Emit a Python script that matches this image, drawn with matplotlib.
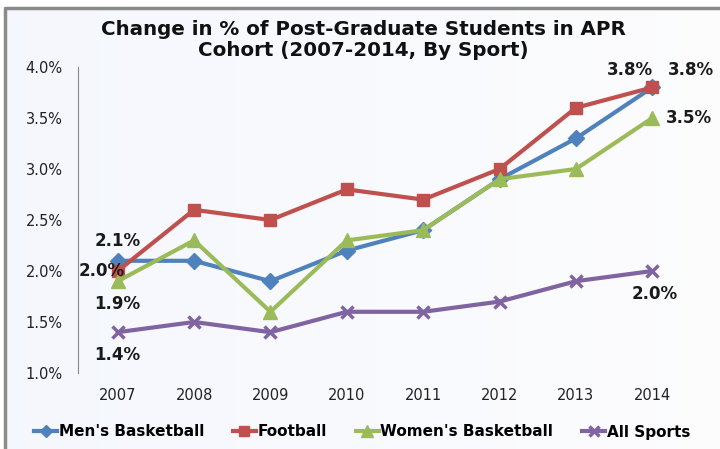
import matplotlib
matplotlib.use("Agg")
import matplotlib.pyplot as plt
import numpy as np

years = ["2007", "2008", "2009", "2010", "2011", "2012", "2013", "2014"]
mens_bb = [2.1, 2.1, 1.9, 2.2, 2.4, 2.9, 3.3, 3.8]
football = [2.0, 2.6, 2.5, 2.8, 2.7, 3.0, 3.6, 3.8]
womens_bb = [1.9, 2.3, 1.6, 2.3, 2.4, 2.9, 3.0, 3.5]
all_sports = [1.4, 1.5, 1.4, 1.6, 1.6, 1.7, 1.9, 2.0]
yticks = [1.0, 1.5, 2.0, 2.5, 3.0, 3.5, 4.0]

plt.rcParams['font.family'] = ['DejaVu Sans']
W, H = 720, 449
fig = plt.figure(figsize=(7.2, 4.49), dpi=100)
fig.patch.set_facecolor('white')
# background panel with border
bg = fig.add_axes([0, 0, 1, 1], zorder=-10)
bg.set_xlim(0, W); bg.set_ylim(H, 0); bg.axis('off')
grad = np.linspace(0, 1, 256).reshape(1, -1)
bg.imshow(np.dstack([0.96 + 0.03*grad, 0.97 + 0.02*grad, 0.995 + 0*grad]),
          extent=[5, W, H, 8], aspect='auto')
bg.plot([5, 5, W], [H, 8, 8], color='#8a8a8a', lw=2.5)

x0, x1 = 78, 692
y_top, y_bot = 67, 373
ax = fig.add_axes([x0/W, 1 - y_bot/H, (x1-x0)/W, (y_bot-y_top)/H])
ax.patch.set_alpha(0)
x = np.arange(len(years))
ax.set_xlim(-0.52, len(years)-0.48)
ax.set_ylim(1.0, 4.0)

ax.plot(x, mens_bb, color='#4F81BD', lw=3, marker='D', ms=8, label="Men's Basketball", zorder=3)
ax.plot(x, football, color='#C0504D', lw=3, marker='s', ms=9, label="Football", zorder=3)
ax.plot(x, womens_bb, color='#9BBB59', lw=3, marker='^', ms=10, label="Women's Basketball", zorder=3)
ax.plot(x, all_sports, color='#8064A2', lw=3, marker='x', ms=9, mew=2.5, label="All Sports", zorder=3)

ax.set_yticks(yticks)
ax.set_yticklabels([f"{v:.1f}%" for v in yticks])
ax.set_xticks(x)
ax.set_xticklabels(years)
ax.tick_params(axis='both', length=0, labelsize=10.5, colors='#222222')
ax.tick_params(axis='y', pad=11)
ax.tick_params(axis='x', pad=11)
for s in ['top', 'right', 'bottom']:
    ax.spines[s].set_visible(False)
ax.spines['left'].set_color('#888888')

lbl = dict(fontsize=12, fontweight='bold', color='#1a1a1a', zorder=5)
ax.annotate(f"{mens_bb[0]:.1f}%", (x[0], mens_bb[0]), xytext=(0, 8), textcoords='offset points', ha='center', va='bottom', **lbl)
ax.annotate(f"{football[0]:.1f}%", (x[0], football[0]), xytext=(5, 0), textcoords='offset points', ha='right', va='center', **lbl)
ax.annotate(f"{womens_bb[0]:.1f}%", (x[0], womens_bb[0]), xytext=(0, -10), textcoords='offset points', ha='center', va='top', **lbl)
ax.annotate(f"{all_sports[0]:.1f}%", (x[0], all_sports[0]), xytext=(0, -10), textcoords='offset points', ha='center', va='top', **lbl)
ax.annotate(f"{mens_bb[-1]:.1f}%", (x[-1], mens_bb[-1]), xytext=(-16, 6), textcoords='offset points', ha='center', va='bottom', **lbl)
ax.annotate(f"{football[-1]:.1f}%", (x[-1], football[-1]), xytext=(11, 6), textcoords='offset points', ha='left', va='bottom', **lbl)
ax.annotate(f"{womens_bb[-1]:.1f}%", (x[-1], womens_bb[-1]), xytext=(10, 0), textcoords='offset points', ha='left', va='center', **lbl)
ax.annotate(f"{all_sports[-1]:.1f}%", (x[-1], all_sports[-1]), xytext=(2, -10), textcoords='offset points', ha='center', va='top', **lbl)

fig.text(363/W, 1 - 40/H, "Change in % of Post-Graduate Students in APR\nCohort (2007-2014, By Sport)",
         ha='center', va='center', fontsize=14.3, fontweight='bold', linespacing=1.1, color='#111111')

leg = fig.legend(loc='center', bbox_to_anchor=(362/W, 1 - 432/H), ncol=4, frameon=False,
                 prop={'weight': 'bold', 'size': 11}, handlelength=1.5, handletextpad=0.1,
                 columnspacing=1.9, markerscale=0.8)
fig.savefig("out.png", dpi=100)
